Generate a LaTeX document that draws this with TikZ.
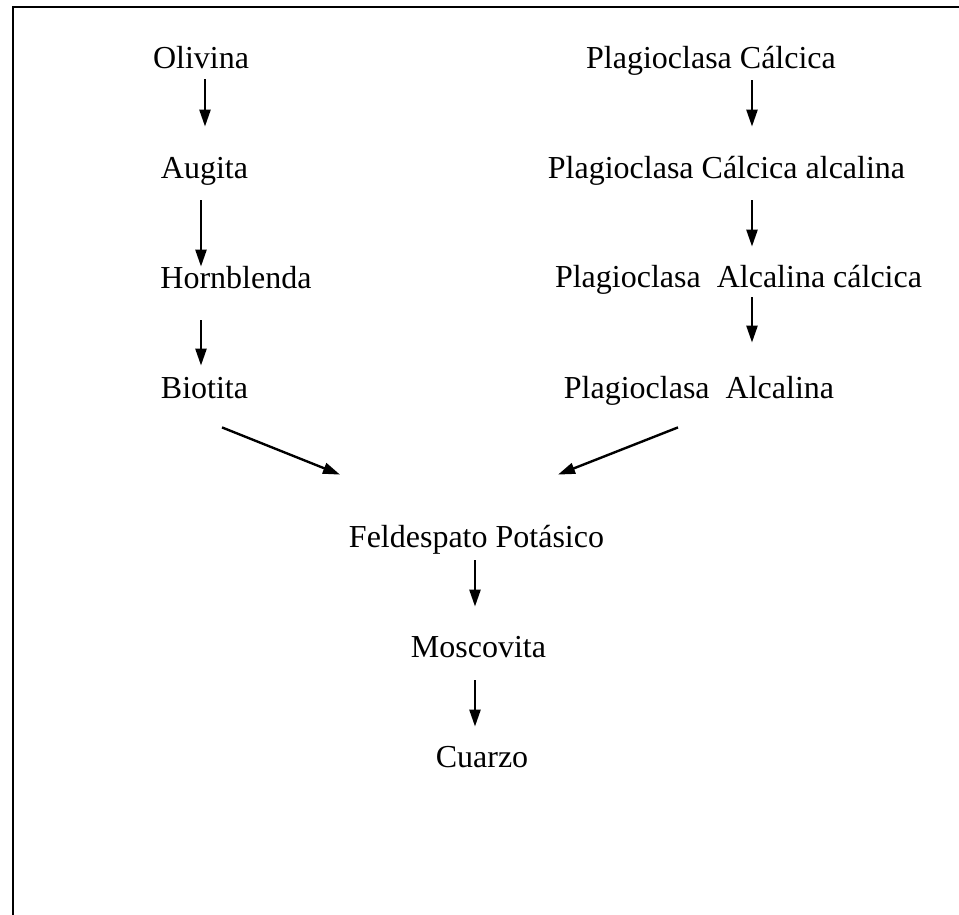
\documentclass[tikz,border=0pt]{standalone}
\usepackage{fontspec}
\setmainfont{Liberation Serif}
\usepackage{tikz}
\usetikzlibrary{arrows.meta}
\tikzset{
	mineral/.style={inner sep=0pt, anchor=base, text height=11pt, text depth=3.5pt, font=\fontsize{16}{19}\selectfont},
	flecha/.style={line width=1.2pt, -{Triangle[length=8.5pt,width=5.5pt]}}
}

\begin{document}
\begin{tikzpicture}[x=0.5pt, y=-0.5pt]
			\useasboundingbox (0,0) rectangle (959,915);
			\draw[line width=1.1pt] (959,7) -- (13,7) -- (13,915);
			% serie discontinua
			\node[mineral] (ol) at (201,69) {Olivina};
			\node[mineral] (au) at (204.5,178) {Augita};
			\node[mineral] (hb) at (236,288) {Hornblenda};
			\node[mineral] (bi) at (204.5,398) {Biotita};
			% serie continua
			\node[mineral] (pc) at (711,69) {Plagioclasa Cálcica};
			\node[mineral] (pca) at (726.5,178) {Plagioclasa Cálcica alcalina};
			\node[mineral] (pac) at (738.5,287) {Plagioclasa~~Alcalina cálcica};
			\node[mineral] (pa) at (699,398) {Plagioclasa~~Alcalina};
			% tramo comun
			\node[mineral] (fp) at (476.5,547) {Feldespato Potásico};
			\node[mineral] (mo) at (478.5,657) {Moscovita};
			\node[mineral] (cu) at (482,767) {Cuarzo};
			\draw[flecha] ([shift={(4,3)}]ol.south) -- ([shift={(0.5,-29)}]au.north);
			\draw[flecha] ([shift={(-3.5,15)}]au.south) -- ([shift={(-35,1)}]hb.north);
			\draw[flecha] ([shift={(-35,25)}]hb.south) -- ([shift={(-3.5,-10)}]bi.north);
			\draw[flecha] ([shift={(41,4)}]pc.south) -- ([shift={(25.5,-29)}]pca.north);
			\draw[flecha] ([shift={(25.5,15)}]pca.south) -- ([shift={(13.5,-18)}]pac.north);
			\draw[flecha] ([shift={(13.5,3)}]pac.south) -- ([shift={(53,-33)}]pa.north);
			\draw[flecha] ([shift={(17.5,22)}]bi.south) -- ([shift={(-136.5,-50)}]fp.north);
			\draw[flecha] ([shift={(-21,22)}]pa.south) -- ([shift={(81.5,-50)}]fp.north);
			\draw[flecha] ([shift={(-1.5,6)}]fp.south) -- ([shift={(-3.5,-28)}]mo.north);
			\draw[flecha] ([shift={(-3.5,16)}]mo.south) -- ([shift={(-7,-18)}]cu.north);
		\end{tikzpicture}
\end{document}
